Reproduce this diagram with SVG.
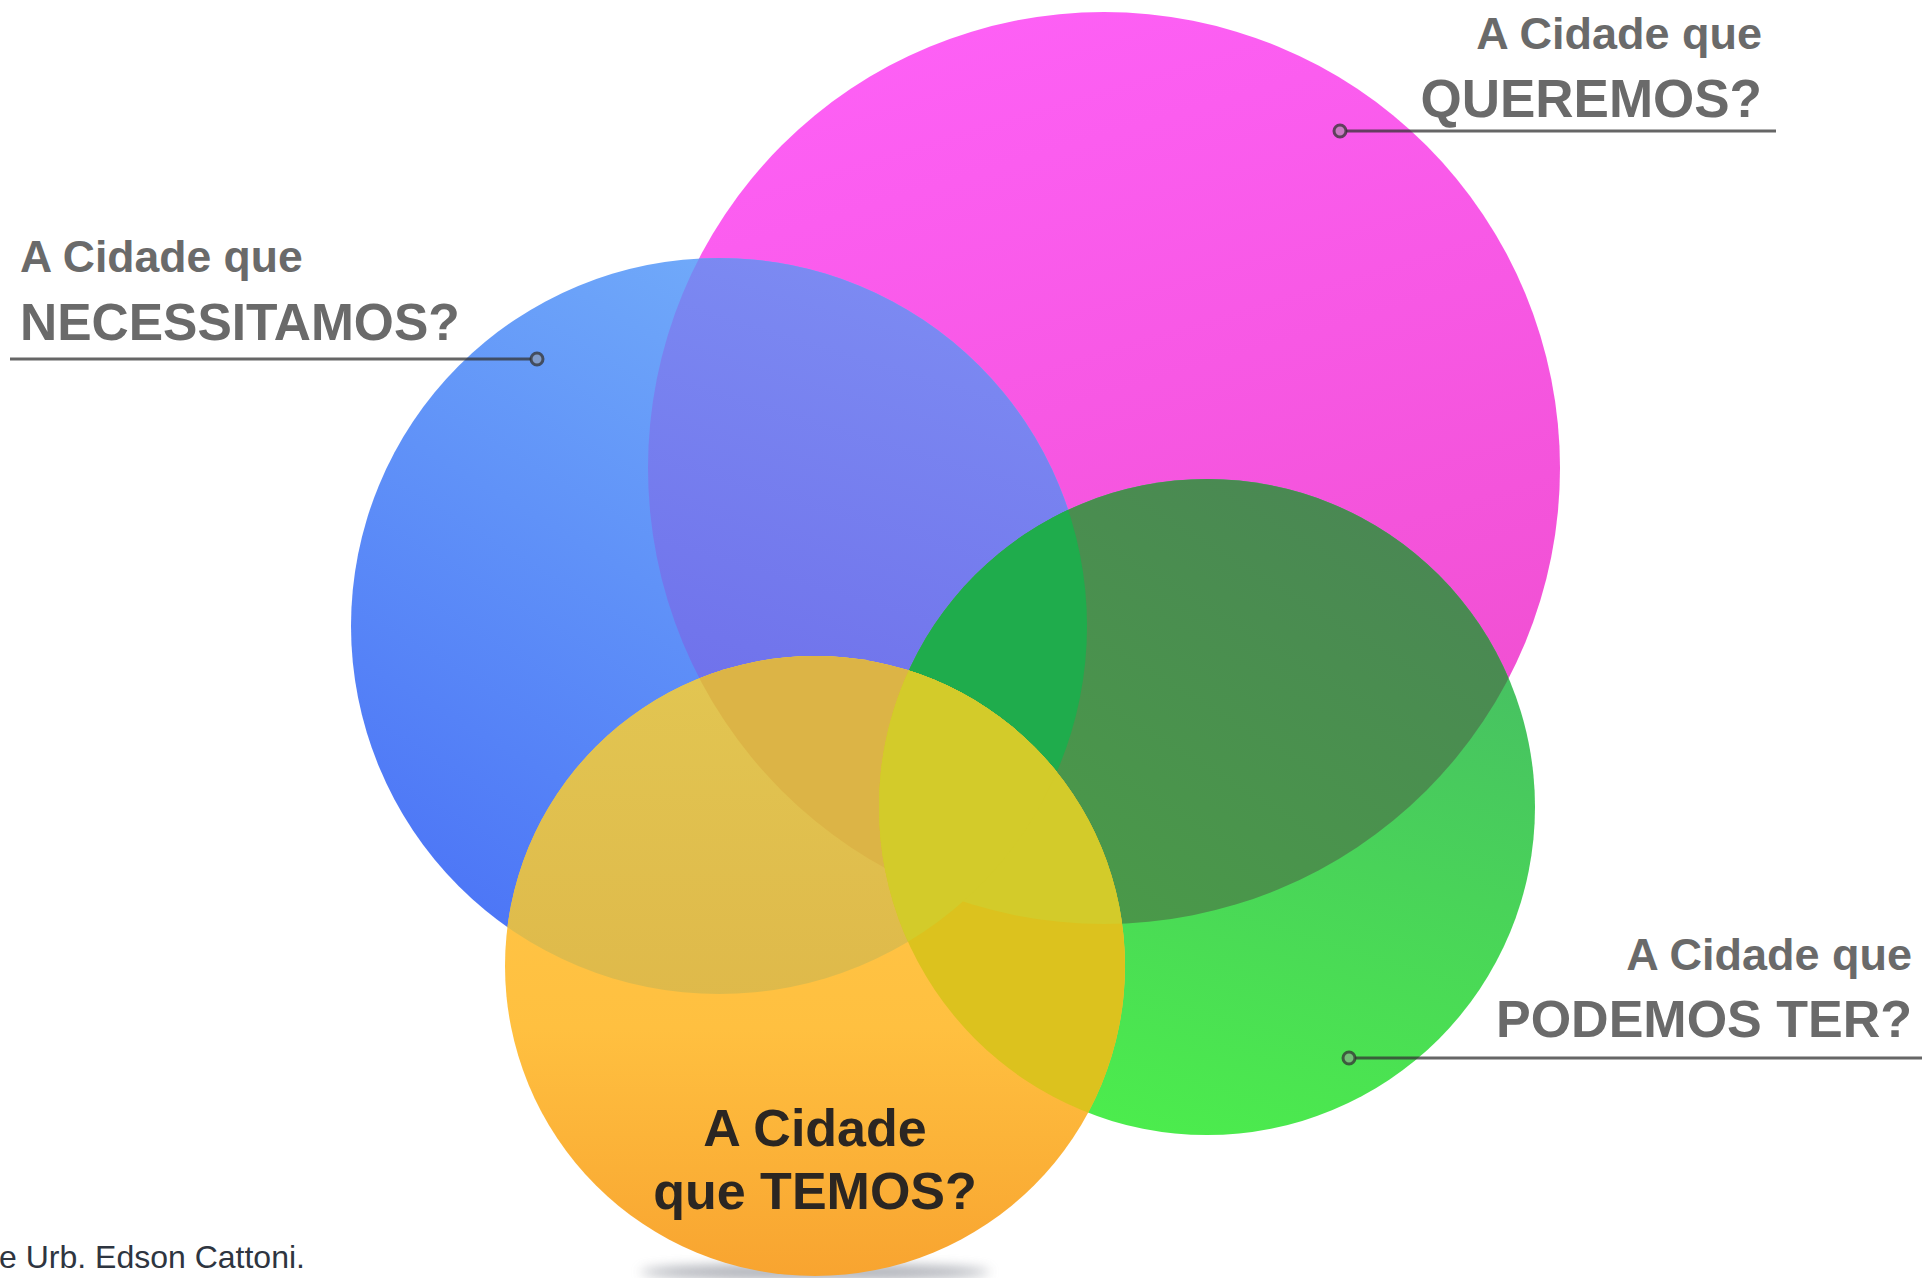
<svg xmlns="http://www.w3.org/2000/svg" width="1924" height="1278" viewBox="0 0 1924 1278">
<style>
.lbl{font-family:"Liberation Sans",Arial,sans-serif;font-weight:bold;fill:#6a6a6a}
.inner{font-family:"Liberation Sans",Arial,sans-serif;font-weight:bold;fill:#2b2622}
.foot{font-family:"Liberation Sans",Arial,sans-serif;fill:#2e3540}
.lead{stroke:#333;stroke-opacity:0.75;stroke-width:3;fill:none}
.dot{stroke:#333;stroke-opacity:0.75;stroke-width:3;fill:#9a9a9a;fill-opacity:0.5}
</style>
<defs>
<linearGradient id="gM" x1="0" y1="0" x2="0.3" y2="1"><stop offset="0" stop-color="#ff62fa"/><stop offset="1" stop-color="#f04fd0"/></linearGradient>
<linearGradient id="gB" x1="0.8" y1="0" x2="0.2" y2="1"><stop offset="0" stop-color="#76b2fa"/><stop offset="1" stop-color="#4a72f6"/></linearGradient>
<linearGradient id="gBM" x1="0.6" y1="0" x2="0.3" y2="1"><stop offset="0" stop-color="#7c8af2"/><stop offset="1" stop-color="#6660e6"/></linearGradient>
<linearGradient id="gG" x1="0.6" y1="0" x2="0.3" y2="1"><stop offset="0" stop-color="#46b866"/><stop offset="1" stop-color="#4cee4c"/></linearGradient>
<linearGradient id="gGM" x1="0.8" y1="0" x2="0.2" y2="1"><stop offset="0" stop-color="#4a8654"/><stop offset="1" stop-color="#4aa244"/></linearGradient>
<linearGradient id="gO" x1="0" y1="0" x2="0" y2="1"><stop offset="0" stop-color="#ffca4c"/><stop offset="0.6" stop-color="#ffc040"/><stop offset="1" stop-color="#f8a430"/></linearGradient>
<linearGradient id="gOB" x1="0" y1="0" x2="0" y2="1"><stop offset="0" stop-color="#e2c652"/><stop offset="1" stop-color="#dcaf44"/></linearGradient>
<clipPath id="cM"><circle cx="1104" cy="468" r="456"/></clipPath>
<clipPath id="cB"><circle cx="719" cy="626" r="368"/></clipPath>
<clipPath id="cG"><circle cx="1207" cy="807" r="328"/></clipPath>
<filter id="blur" x="-20%" y="-200%" width="140%" height="500%"><feGaussianBlur stdDeviation="6"/></filter>
</defs>
<rect width="1924" height="1278" fill="#ffffff"/>

<g id="node-queremos">
<circle cx="1104" cy="468" r="456" fill="url(#gM)"/>
<text class="lbl" x="1762" y="49" font-size="45" text-anchor="end">A Cidade que</text>
<text class="lbl" x="1762" y="117" font-size="53" text-anchor="end">QUEREMOS?</text>
</g>

<g id="node-necessitamos">
<circle cx="719" cy="626" r="368" fill="url(#gB)"/>
<circle cx="719" cy="626" r="368" fill="url(#gBM)" clip-path="url(#cM)"/>
<text class="lbl" x="20" y="272" font-size="44.5">A Cidade que</text>
<text class="lbl" x="20" y="340" font-size="51.5">NECESSITAMOS?</text>
</g>

<g id="node-podemos">
<circle cx="1207" cy="807" r="328" fill="url(#gG)"/>
<circle cx="1207" cy="807" r="328" fill="url(#gGM)" clip-path="url(#cM)"/>
<circle cx="1207" cy="807" r="328" fill="#1fac4c" clip-path="url(#cB)"/>
<text class="lbl" x="1912" y="970" font-size="45" text-anchor="end">A Cidade que</text>
<text class="lbl" x="1912" y="1037" font-size="52" text-anchor="end">PODEMOS TER?</text>
</g>

<g id="node-temos">
<ellipse cx="815" cy="1272" rx="175" ry="8" fill="#7a7f8a" opacity="0.6" filter="url(#blur)"/>
<circle cx="815" cy="966" r="310" fill="url(#gO)"/>
<circle cx="815" cy="966" r="310" fill="url(#gOB)" clip-path="url(#cB)"/>
<g clip-path="url(#cB)"><circle cx="815" cy="966" r="310" fill="#dcb446" clip-path="url(#cM)"/></g>
<circle cx="815" cy="966" r="310" fill="#dcc21e" clip-path="url(#cG)"/>
<g clip-path="url(#cG)"><circle cx="815" cy="966" r="310" fill="#d3cb2a" clip-path="url(#cM)"/></g>
<g clip-path="url(#cG)"><circle cx="815" cy="966" r="310" fill="#d3cb2a" clip-path="url(#cB)"/></g>
<text class="inner" x="815" y="1146" font-size="52" text-anchor="middle">A Cidade</text>
<text class="inner" x="815" y="1209" font-size="52" text-anchor="middle">que TEMOS?</text>
</g>

<g id="connectors">
<line class="lead" x1="1346" y1="131" x2="1776" y2="131"/>
<circle class="dot" cx="1340" cy="131" r="6"/>
<line class="lead" x1="10" y1="359" x2="531" y2="359"/>
<circle class="dot" cx="537" cy="359" r="6"/>
<line class="lead" x1="1355" y1="1058" x2="1922" y2="1058"/>
<circle class="dot" cx="1349" cy="1058" r="6"/>
</g>

<text class="foot" x="-1" y="1268" font-size="32">e Urb. Edson Cattoni.</text>
</svg>
